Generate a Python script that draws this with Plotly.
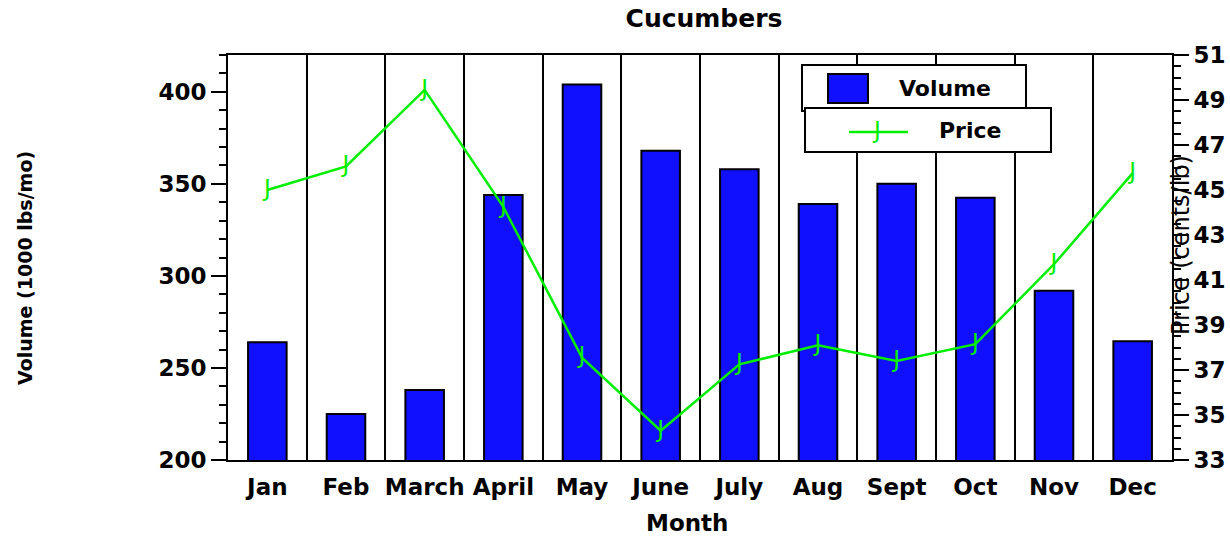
import plotly.graph_objects as go

months = ["Jan", "Feb", "March", "April", "May", "June", "July", "Aug", "Sept", "Oct", "Nov", "Dec"]
volume = [264, 225, 238, 344, 404, 368, 358, 339, 350, 342.5, 292, 264.5]
price = [45.0, 46.05, 49.45, 44.25, 37.55, 34.3, 37.25, 38.1, 37.4, 38.15, 41.7, 45.75]

FONT = "DejaVu Sans"
BLUE = "#1010ff"
GREEN = "#00ee00"

fig = go.Figure()
fig.add_trace(go.Bar(x=months, y=volume, width=0.49, name="Volume",
                     marker=dict(color=BLUE, line=dict(color="black", width=2)),
                     yaxis="y", showlegend=False))
fig.add_trace(go.Scatter(x=months, y=price, mode="lines", name="Price",
                         line=dict(color=GREEN, width=2.5), yaxis="y2", showlegend=False))
fig.add_trace(go.Scatter(x=months, y=price, mode="text", text=["J"] * len(months),
                         textposition="middle center",
                         textfont=dict(family=FONT, size=23, color=GREEN),
                         yaxis="y2", showlegend=False, hoverinfo="skip"))

def px_x(p):
    return (p - 228) / 944

def px_y(p):
    return (460 - p) / 405

shapes = [
    dict(type="rect", xref="paper", yref="paper", x0=px_x(802), x1=px_x(1026), y0=px_y(111), y1=px_y(65),
         line=dict(color="black", width=2), fillcolor="white", layer="above"),
    dict(type="rect", xref="paper", yref="paper", x0=px_x(805), x1=px_x(1051), y0=px_y(152), y1=px_y(108),
         line=dict(color="black", width=2), fillcolor="white", layer="above"),
    dict(type="rect", xref="paper", yref="paper", x0=px_x(828), x1=px_x(868), y0=px_y(103), y1=px_y(74),
         line=dict(color="black", width=2), fillcolor=BLUE, layer="above"),
    dict(type="line", xref="paper", yref="paper", x0=px_x(849), x1=px_x(908), y0=px_y(132), y1=px_y(132),
         line=dict(color=GREEN, width=2.5), layer="above"),
]

annotations = [
    dict(text="Volume", xref="paper", yref="paper", x=px_x(945), y=px_y(88), showarrow=False,
         font=dict(family=FONT, size=22, color="black", weight="bold"), xanchor="center", yanchor="middle"),
    dict(text="Price", xref="paper", yref="paper", x=px_x(970), y=px_y(130), showarrow=False,
         font=dict(family=FONT, size=22, color="black", weight="bold"), xanchor="center", yanchor="middle"),
    dict(text="J", xref="paper", yref="paper", x=px_x(876), y=px_y(130), showarrow=False,
         font=dict(family=FONT, size=23, color=GREEN), xanchor="center", yanchor="middle"),
    dict(text="Volume (1000 lbs/mo)", xref="paper", yref="paper", x=px_x(25), y=px_y(268), showarrow=False,
         textangle=-90, font=dict(family=FONT, size=19, color="black", weight="bold"),
         xanchor="center", yanchor="middle"),
    dict(text="Price (cents/lb)", xref="paper", yref="paper", x=px_x(1181), y=px_y(245), showarrow=False,
         textangle=-90, font=dict(family=FONT, size=24, color="black"),
         xanchor="center", yanchor="middle"),
    dict(text="Month", xref="paper", yref="paper", x=px_x(687), y=px_y(523), showarrow=False,
         font=dict(family=FONT, size=23, color="black", weight="bold"), xanchor="center", yanchor="middle"),
]

fig.update_layout(
    width=1230, height=538,
    margin=dict(l=228, r=58, t=55, b=78),
    paper_bgcolor="white", plot_bgcolor="white",
    title=dict(text="Cucumbers", x=px_x(704), xref="paper", xanchor="center",
               y=1 - 18 / 538, yref="container", yanchor="middle",
               font=dict(family=FONT, size=25, color="black", weight="bold")),
    xaxis=dict(type="category", showline=True, linecolor="black", linewidth=2, mirror=True,
               showgrid=True, gridcolor="black", gridwidth=2, tickson="boundaries",
               ticks="", tickangle=0, automargin=False, ticklabelstandoff=5,
               tickfont=dict(family=FONT, size=23, color="black", weight="bold"),
               range=[-0.5, 11.5], zeroline=False),
    yaxis=dict(range=[200, 420], dtick=50, tick0=200, showline=True, linecolor="black", linewidth=2,
               ticks="outside", ticklen=15, tickwidth=2, tickcolor="black", automargin=False,
               minor=dict(dtick=10, ticks="outside", ticklen=7, tickwidth=2, tickcolor="black"),
               showgrid=False, zeroline=False,
               tickfont=dict(family=FONT, size=23, color="black", weight="bold")),
    yaxis2=dict(range=[33, 51], dtick=2, tick0=33, overlaying="y", side="right",
                showline=True, linecolor="black", linewidth=2, automargin=False,
                ticks="outside", ticklen=15, tickwidth=2, tickcolor="black",
                minor=dict(dtick=0.5, ticks="outside", ticklen=7, tickwidth=2, tickcolor="black"),
                showgrid=False, zeroline=False,
                tickfont=dict(family=FONT, size=23, color="black", weight="bold")),
    shapes=shapes,
    annotations=annotations,
    bargap=0.5,
)

fig.write_html("out.html", config={"displayModeBar": False},
               post_script="document.body.style.margin='0px';document.body.style.padding='0px';")
